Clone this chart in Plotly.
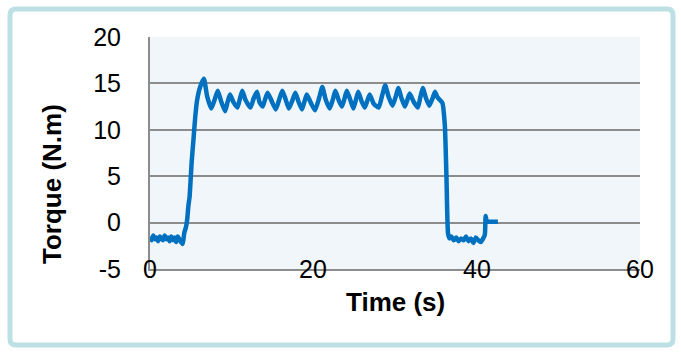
import plotly.graph_objects as go

# Torque trace (time in s, torque in N.m)
t_start = [0.0, 0.2, 0.4, 0.6, 0.8, 1.0, 1.2, 1.4, 1.6, 1.8, 2.0, 2.2, 2.4, 2.6, 2.8,
           3.0, 3.2, 3.4, 3.6, 3.8, 4.0]
v_start = [-1.5, -1.9, -1.4, -1.8, -1.6, -2.0, -1.5, -1.7, -1.9, -1.4, -1.8, -1.6, -2.0,
           -1.5, -1.9, -1.6, -2.1, -1.5, -1.8, -2.1, -2.3]

t_rise = [4.2, 4.4, 4.55, 4.7, 4.85, 5.1, 5.3, 5.55, 5.75, 6.0, 6.3]
v_rise = [-1.1, -0.5, 0.3, 1.8, 2.8, 6.5, 8.7, 11.5, 13.1, 14.2, 15.0]

t_plateau = [6.6, 7.0, 7.5, 7.9, 8.3, 8.7, 9.2, 9.5, 9.8, 10.2, 10.7, 11.0, 11.3, 11.7,
             12.3, 12.7, 13.1, 13.4, 13.8, 14.1, 14.4, 14.9, 15.4, 15.8, 16.2, 16.6,
             17.0, 17.4, 17.8, 18.2, 18.6, 18.9, 19.2, 19.7, 20.2, 20.7, 21.1, 21.5,
             22.0, 22.4, 22.7, 23.1, 23.5, 23.8, 24.1, 24.5, 24.9, 25.2, 25.5, 25.9,
             26.3, 26.6, 26.9, 27.4, 28.0, 28.4, 28.8, 29.2, 29.7, 30.1, 30.4, 30.8,
             31.2, 31.5, 31.8, 32.3, 32.8, 33.1, 33.4, 33.8, 34.2, 34.6, 34.9, 35.2,
             35.5, 35.8]
v_plateau = [15.5, 13.6, 12.3, 13.2, 14.2, 13.1, 12.0, 13.0, 13.8, 13.0, 12.4, 13.3,
             14.2, 13.2, 12.4, 13.4, 14.1, 13.0, 12.5, 13.3, 14.0, 13.1, 12.2, 13.2,
             14.2, 13.3, 12.3, 13.1, 14.0, 13.0, 12.2, 13.0, 13.8, 12.9, 12.1, 13.4,
             14.6, 13.3, 12.3, 13.3, 14.2, 13.2, 12.5, 13.3, 14.2, 13.3, 12.3, 13.2,
             14.1, 13.1, 12.4, 13.1, 13.8, 12.8, 12.4, 13.6, 14.8, 13.6, 12.6, 13.6,
             14.5, 13.4, 12.5, 13.2, 13.9, 13.0, 12.4, 13.5, 14.5, 13.4, 12.6, 13.4,
             14.1, 13.5, 13.2, 12.9]

t_fall = [36.1, 36.3, 36.5, 36.7]
v_fall = [10.5, 5.0, -1.2, -1.7]

t_end = [36.9, 37.2, 37.5, 37.8, 38.1, 38.4, 38.7, 39.0, 39.3, 39.6, 39.9, 40.2, 40.5,
         40.8, 41.0, 41.1, 41.25, 41.6, 42.0, 42.6]
v_end = [-1.5, -1.9, -1.6, -2.0, -1.7, -1.9, -1.5, -2.0, -1.7, -2.2, -1.6, -1.9, -2.1,
         -1.7, -1.3, 0.7, 0.1, 0.1, 0.1, 0.1]

time_s = t_start + t_rise + t_plateau + t_fall + t_end
torque = v_start + v_rise + v_plateau + v_fall + v_end

x_ticks = [0, 20, 40, 60]
y_ticks = [-5, 0, 5, 10, 15, 20]
y_tick_text = ["-5", "0", "5", "10", "15", "20"]

FONT = "Liberation Sans, Arial, sans-serif"
GRID = "#8c8c8c"

fig = go.Figure()
fig.add_trace(go.Scatter(
    x=time_s, y=torque, mode="lines",
    line=dict(color="#0070c0", width=4.5, shape="spline", smoothing=0.5),
    showlegend=False,
))

# plot area occupies pixels x 150..640, y 37..269
L, R, T, B = 150, 41, 37, 83
W, H = 681, 352
pw, ph = W - L - R, H - T - B


def px(x):
    return (x - L) / pw


def py(y):
    return (H - B - y) / ph


# rounded outer frame
x0, x1, y0, y1, r = px(10), px(673), py(9), py(345), 6
rx, ry = r / pw, r / ph
frame_path = (
    f"M {x0 + rx},{y0} L {x1 - rx},{y0} Q {x1},{y0} {x1},{y0 - ry} "
    f"L {x1},{y1 + ry} Q {x1},{y1} {x1 - rx},{y1} "
    f"L {x0 + rx},{y1} Q {x0},{y1} {x0},{y1 + ry} "
    f"L {x0},{y0 - ry} Q {x0},{y0} {x0 + rx},{y0} Z"
)

annotations = [
    dict(x=xv, y=y_ticks[0], xref="x", yref="y", text=str(xv), showarrow=False,
         xanchor="center", yanchor="middle", font=dict(family=FONT, size=25, color="#000"))
    for xv in x_ticks
]
annotations += [
    dict(x=0.5, y=py(302), xref="paper", yref="paper", text="<b>Time (s)</b>",
         showarrow=False, xanchor="center", yanchor="middle",
         font=dict(family=FONT, size=26, color="#000")),
    dict(x=px(52), y=py(184), xref="paper", yref="paper", text="<b>Torque (N.m)</b>",
         showarrow=False, xanchor="center", yanchor="middle", textangle=-90,
         font=dict(family=FONT, size=26, color="#000")),
]

fig.update_layout(
    width=W, height=H,
    margin=dict(l=L, r=R, t=T, b=B, pad=0),
    paper_bgcolor="white",
    plot_bgcolor="#f1f6fa",
    font=dict(family=FONT, size=25, color="#000"),
    shapes=[dict(type="path", xref="paper", yref="paper", path=frame_path,
                 line=dict(color="#bde0e5", width=5), layer="below")],
    annotations=annotations,
    xaxis=dict(range=[0, 60], tickvals=x_ticks, showticklabels=False, showgrid=False,
               zeroline=False, showline=True, linecolor=GRID, linewidth=2, ticks=""),
    yaxis=dict(range=[-5, 20], tickvals=y_ticks, ticktext=y_tick_text, showgrid=True,
               gridcolor=GRID, gridwidth=2, zeroline=False, showline=True,
               linecolor=GRID, linewidth=2, ticks="", ticklabelstandoff=22,
               tickfont=dict(family=FONT, size=25, color="#000")),
)

fig.write_html("out.html")
